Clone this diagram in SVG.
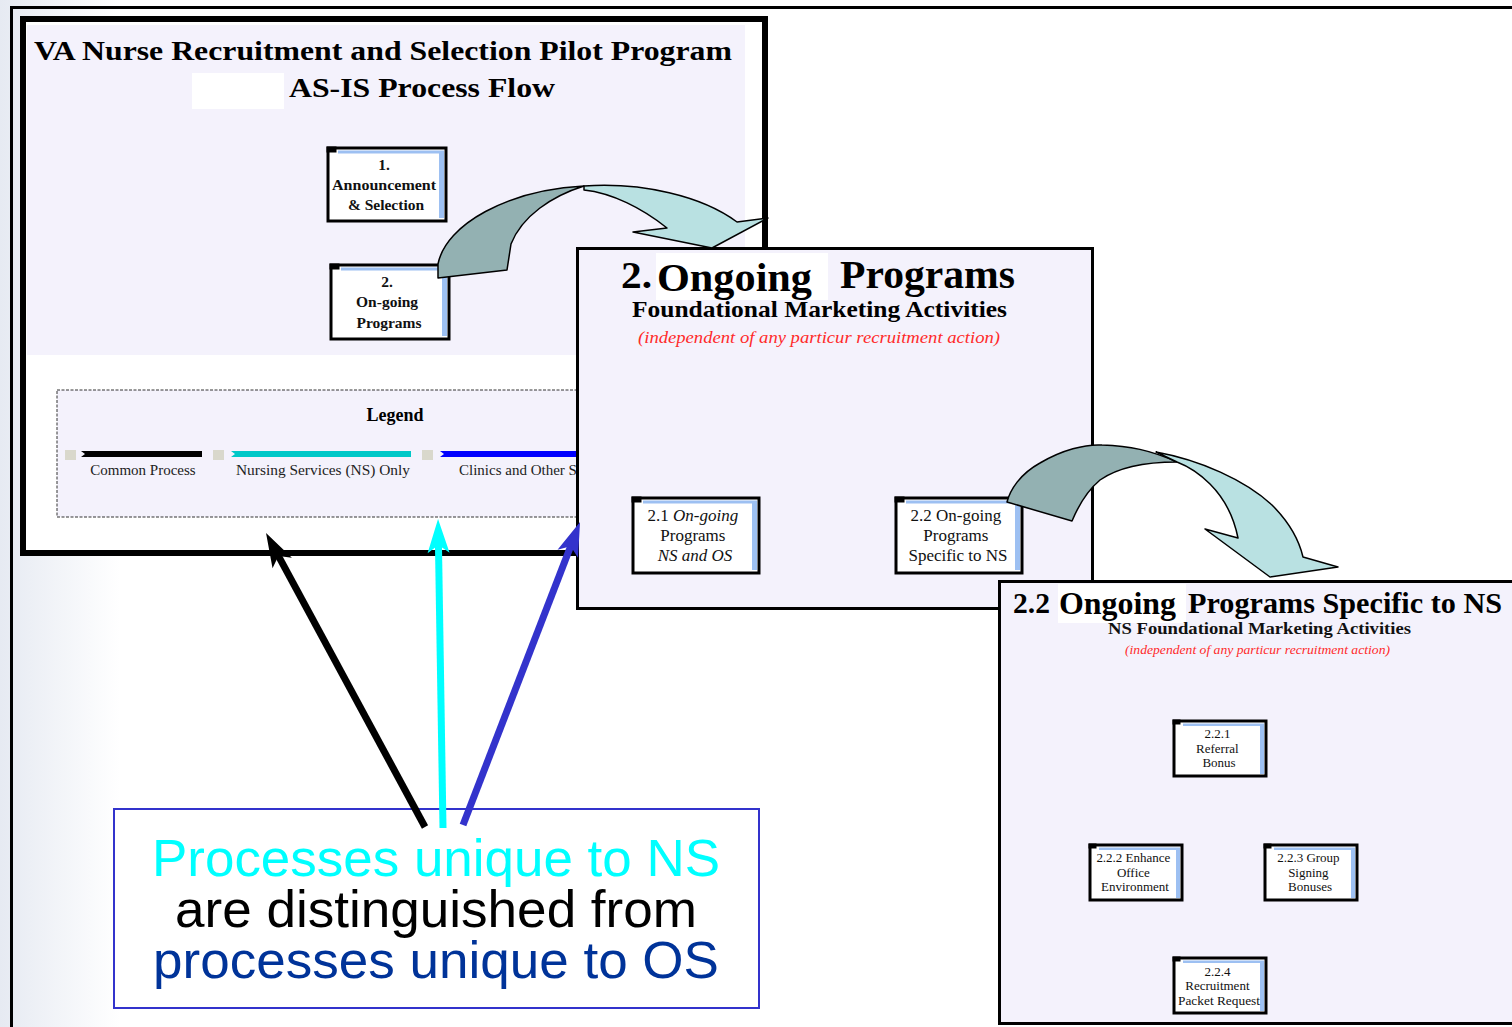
<svg xmlns="http://www.w3.org/2000/svg" width="1512" height="1027" viewBox="0 0 1512 1027">
  <defs>
    <linearGradient id="lg" x1="0" y1="0" x2="1" y2="0">
      <stop offset="0" stop-color="#e6eaf2"/>
      <stop offset="1" stop-color="#ffffff"/>
    </linearGradient>
    <marker id="hk" viewBox="-36 -12 38 24" markerWidth="38" markerHeight="24" refX="-22" refY="0" orient="auto" markerUnits="userSpaceOnUse">
      <path d="M0,0 L-34,-11 L-26,0 L-34,11 Z" fill="#000000"/>
    </marker>
    <marker id="hc" viewBox="-36 -12 38 24" markerWidth="38" markerHeight="24" refX="-22" refY="0" orient="auto" markerUnits="userSpaceOnUse">
      <path d="M0,0 L-34,-11 L-26,0 L-34,11 Z" fill="#00ffff"/>
    </marker>
    <marker id="hb" viewBox="-36 -12 38 24" markerWidth="38" markerHeight="24" refX="-22" refY="0" orient="auto" markerUnits="userSpaceOnUse">
      <path d="M0,0 L-34,-11 L-26,0 L-34,11 Z" fill="#3333cc"/>
    </marker>
  </defs>
  <style>
    .serif { font-family: "Liberation Serif", "Times New Roman", serif; }
    .sans { font-family: "Liberation Sans", Arial, sans-serif; }
    .b { font-weight: bold; }
    .it { font-style: italic; }
    .panel { fill: #f4f2fc; stroke: #000; stroke-width: 3; }
    .bx { fill: #ffffff; stroke: #000; stroke-width: 3; }
    .bl { fill: #9dc0f2; }
    .ck { fill: #000; }
    .red { fill: #ff2a2a; }
    .dark { fill: #93b1b2; stroke: #000; stroke-width: 1.5; stroke-linejoin: round; }
    .light { fill: #b9e1e2; stroke: #000; stroke-width: 1.5; stroke-linejoin: round; }
    .bt { font-family: "Liberation Serif", "Times New Roman", serif; font-size: 15.5px; font-weight: bold; text-anchor: middle; fill: #111; }
    .mt { font-family: "Liberation Serif", "Times New Roman", serif; font-size: 17px; text-anchor: middle; fill: #111; }
    .st { font-family: "Liberation Serif", "Times New Roman", serif; font-size: 13px; text-anchor: middle; fill: #111; }
  </style>

  <!-- background -->
  <rect x="0" y="0" width="1512" height="1027" fill="#ffffff"/>
  <rect x="0" y="0" width="120" height="1027" fill="url(#lg)"/>
  <line x1="10" y1="7.5" x2="1512" y2="7.5" stroke="#000" stroke-width="3"/>
  <line x1="11.5" y1="6" x2="11.5" y2="1027" stroke="#000" stroke-width="3"/>

  <!-- Panel 1 -->
  <g id="panel1">
    <rect x="23" y="19" width="742" height="534" fill="#ffffff" stroke="#000" stroke-width="6"/>
    <rect x="27" y="25" width="718" height="330" fill="#f4f2fc"/>
    <text class="serif b" x="383" y="60" font-size="28" text-anchor="middle" textLength="698" lengthAdjust="spacingAndGlyphs">VA Nurse Recruitment and Selection Pilot Program</text>
    <rect x="192" y="73" width="92" height="36" fill="#ffffff"/>
    <text class="serif b" x="422" y="97" font-size="28" text-anchor="middle" textLength="266" lengthAdjust="spacingAndGlyphs">AS-IS Process Flow</text>
  </g>

  <g id="node1">
    <rect class="bx" x="328" y="148" width="118" height="73"/>
    <rect class="bl" x="338" y="150.5" width="106" height="3"/>
    <rect class="bl" x="439" y="151" width="5" height="67"/>
    <rect class="ck" x="326.5" y="146.5" width="10" height="6"/>
    <text class="bt">
      <tspan x="386" y="170">1.</tspan>
      <tspan x="386" y="190" textLength="104" lengthAdjust="spacingAndGlyphs">Announcement</tspan>
      <tspan x="386" y="210">&amp; Selection</tspan>
    </text>
  </g>

  <g id="node2">
    <rect class="bx" x="331" y="265" width="118" height="74"/>
    <rect class="bl" x="341" y="267.5" width="106" height="3"/>
    <rect class="bl" x="442" y="268" width="5" height="68"/>
    <rect class="ck" x="329.5" y="263.5" width="10" height="6"/>
    <text class="bt">
      <tspan x="389" y="287">2.</tspan>
      <tspan x="389" y="307">On-going</tspan>
      <tspan x="389" y="328">Programs</tspan>
    </text>
  </g>

  <!-- Legend -->
  <g id="legend">
    <rect x="57" y="390" width="523" height="127" fill="#f4f2fc" stroke="#333" stroke-width="1" stroke-dasharray="3,1.5"/>
    <text class="serif" x="395" y="421" font-size="18" font-weight="600" text-anchor="middle">Legend</text>
    <rect x="65" y="450" width="11" height="10" fill="#d9d8cc"/>
    <rect x="213" y="450" width="11" height="10" fill="#d9d8cc"/>
    <rect x="422" y="450" width="11" height="10" fill="#d9d8cc"/>
    <path d="M81,451 L202,451 L202,457 L81,457 L85,454 Z" fill="#000"/>
    <path d="M231,451 L411,451 L411,457 L231,457 L235,454 Z" fill="#00c8c8"/>
    <path d="M440,451 L600,451 L600,457 L440,457 L444,454 Z" fill="#0000ff"/>
    <text class="serif" x="143" y="475" font-size="15" fill="#222" text-anchor="middle">Common Process</text>
    <text class="serif" x="323" y="475" font-size="15" fill="#222" text-anchor="middle" textLength="174" lengthAdjust="spacingAndGlyphs">Nursing Services (NS) Only</text>
    <text class="serif" x="459" y="475" font-size="15" fill="#222">Clinics and Other S</text>
  </g>

  <!-- Panel 2 -->
  <g id="panel2">
    <rect class="panel" x="577.5" y="248.5" width="515" height="360"/>
    <text class="serif b" x="621" y="288" font-size="38" textLength="31" lengthAdjust="spacingAndGlyphs">2.</text>
    <rect x="656" y="253" width="172" height="47" fill="#ffffff"/>
    <text class="serif b" x="657" y="291" font-size="41" textLength="155" lengthAdjust="spacingAndGlyphs">Ongoing</text>
    <text class="serif b" x="840" y="288" font-size="41" textLength="175" lengthAdjust="spacingAndGlyphs">Programs</text>
    <text class="serif b" x="632" y="317" font-size="23" textLength="375" lengthAdjust="spacingAndGlyphs">Foundational Marketing Activities</text>
    <text class="serif it red" x="638" y="343" font-size="16" textLength="362" lengthAdjust="spacingAndGlyphs">(independent of any particur recruitment action)</text>
  </g>

  <g id="node21">
    <rect class="bx" x="633" y="498" width="126" height="75"/>
    <rect class="bl" x="643" y="500.5" width="114" height="3"/>
    <rect class="bl" x="752" y="501" width="5" height="69"/>
    <rect class="ck" x="631.5" y="496.5" width="10" height="6"/>
    <text class="mt">
      <tspan x="695" y="521">2.1 <tspan class="it">On-going</tspan></tspan>
      <tspan x="695" y="541">Programs</tspan>
      <tspan x="695" y="561" class="it">NS and OS</tspan>
    </text>
  </g>

  <g id="node22">
    <rect class="bx" x="896" y="498" width="126" height="75"/>
    <rect class="bl" x="906" y="500.5" width="114" height="3"/>
    <rect class="bl" x="1015" y="501" width="5" height="69"/>
    <rect class="ck" x="894.5" y="496.5" width="10" height="6"/>
    <text class="mt">
      <tspan x="958" y="521">2.2 On-going</tspan>
      <tspan x="958" y="541">Programs</tspan>
      <tspan x="958" y="561">Specific to NS</tspan>
    </text>
  </g>

  <!-- Panel 3 -->
  <g id="panel3">
    <rect class="panel" x="999.5" y="581.5" width="514" height="442"/>
    <text class="serif b" x="1013" y="613" font-size="29" textLength="37" lengthAdjust="spacingAndGlyphs">2.2</text>
    <rect x="1058" y="584" width="128" height="39" fill="#ffffff"/>
    <text class="serif b" x="1059" y="614" font-size="31" textLength="117" lengthAdjust="spacingAndGlyphs">Ongoing</text>
    <text class="serif b" x="1188" y="613" font-size="30" textLength="314" lengthAdjust="spacingAndGlyphs">Programs Specific to NS</text>
    <text class="serif b" x="1108" y="634" font-size="17.5" fill="#111" textLength="303" lengthAdjust="spacingAndGlyphs">NS Foundational Marketing Activities</text>
    <text class="serif it red" x="1125" y="654" font-size="12" textLength="265" lengthAdjust="spacingAndGlyphs">(independent of any particur recruitment action)</text>
  </g>

  <g id="node221">
    <rect class="bx" x="1174" y="721" width="92" height="55"/>
    <rect class="bl" x="1183" y="723.5" width="81" height="2.5"/>
    <rect class="bl" x="1260" y="724" width="4" height="50"/>
    <rect class="ck" x="1172.5" y="719.5" width="8" height="5"/>
    <text class="st">
      <tspan x="1219" y="738">2.2.1</tspan>
      <tspan x="1219" y="753">Referral</tspan>
      <tspan x="1219" y="767">Bonus</tspan>
    </text>
  </g>

  <g id="node222">
    <rect class="bx" x="1090" y="845" width="92" height="55"/>
    <rect class="bl" x="1099" y="847.5" width="81" height="2.5"/>
    <rect class="bl" x="1176" y="848" width="4" height="50"/>
    <rect class="ck" x="1088.5" y="843.5" width="8" height="5"/>
    <text class="st">
      <tspan x="1135" y="862" textLength="74" lengthAdjust="spacingAndGlyphs">2.2.2 Enhance</tspan>
      <tspan x="1135" y="877">Office</tspan>
      <tspan x="1135" y="891">Environment</tspan>
    </text>
  </g>

  <g id="node223">
    <rect class="bx" x="1265" y="845" width="92" height="55"/>
    <rect class="bl" x="1274" y="847.5" width="81" height="2.5"/>
    <rect class="bl" x="1351" y="848" width="4" height="50"/>
    <rect class="ck" x="1263.5" y="843.5" width="8" height="5"/>
    <text class="st">
      <tspan x="1310" y="862">2.2.3 Group</tspan>
      <tspan x="1310" y="877">Signing</tspan>
      <tspan x="1310" y="891">Bonuses</tspan>
    </text>
  </g>

  <g id="node224">
    <rect class="bx" x="1174" y="958" width="92" height="55"/>
    <rect class="bl" x="1183" y="960.5" width="81" height="2.5"/>
    <rect class="bl" x="1260" y="961" width="4" height="50"/>
    <rect class="ck" x="1172.5" y="956.5" width="8" height="5"/>
    <text class="st">
      <tspan x="1219" y="976">2.2.4</tspan>
      <tspan x="1219" y="990">Recruitment</tspan>
      <tspan x="1219" y="1005" textLength="82" lengthAdjust="spacingAndGlyphs">Packet Request</tspan>
    </text>
  </g>

  <!-- Note box -->
  <g id="note">
    <rect x="114" y="809" width="645" height="199" fill="#ffffff" stroke="#3333cc" stroke-width="2"/>
    <text class="sans" x="436" y="876" font-size="52" fill="#00ffff" text-anchor="middle" textLength="568" lengthAdjust="spacingAndGlyphs">Processes unique to NS</text>
    <text class="sans" x="436" y="927" font-size="52" fill="#000000" text-anchor="middle" textLength="522" lengthAdjust="spacingAndGlyphs">are distinguished from</text>
    <text class="sans" x="436" y="978" font-size="52" fill="#003399" text-anchor="middle" textLength="566" lengthAdjust="spacingAndGlyphs">processes unique to OS</text>
  </g>

  <!-- Connectors -->
  <g id="connectors">
    <g id="ribbon1">
      <path class="dark" d="M438,278 L438,264 C446,224 508,190 584,186 C552,196 522,216 511,244 L507,270 Z"/>
      <path class="light" d="M584,186 C642,182 702,196 737,222 L768,218 L712,248 L633,232 L667,228 C642,208 612,193 584,190 Z"/>
    </g>
    <g id="ribbon2">
      <path class="dark" d="M1007,502 C1010,490 1020,474 1040,463 C1062,450 1085,444 1102,445 C1130,446 1150,450 1177,462 C1150,462 1120,466 1100,480 C1088,490 1080,502 1072,521 Z"/>
      <path class="light" d="M1156,452 C1200,460 1245,480 1272,505 C1290,523 1299,540 1303,557 L1338,567 L1270,577 L1205,529 L1238,538 C1234,518 1224,498 1210,484 C1200,474 1190,467 1177,462 Z"/>
    </g>
    <line x1="425" y1="827" x2="276.5" y2="552.4" stroke="#000000" stroke-width="7" marker-end="url(#hk)"/>
    <line x1="443" y1="828" x2="438.4" y2="541" stroke="#00ffff" stroke-width="7" marker-end="url(#hc)"/>
    <line x1="463" y1="825" x2="572.1" y2="542.5" stroke="#3333cc" stroke-width="7" marker-end="url(#hb)"/>
  </g>
</svg>
